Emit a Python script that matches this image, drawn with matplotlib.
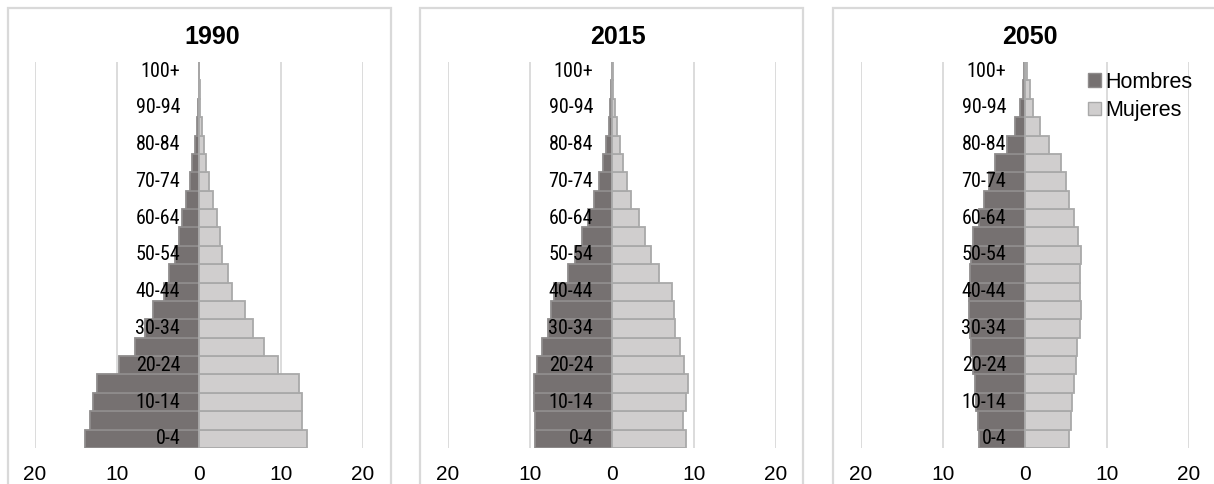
import numpy as np
import matplotlib
matplotlib.use('Agg')
import matplotlib.pyplot as plt
from matplotlib.patches import Patch, Rectangle

plt.rcParams['font.family'] = ['Liberation Sans', 'DejaVu Sans']

#age groups, youngest first
ages = ['0-4', '5-9', '10-14', '15-19', '20-24', '25-29', '30-34', '35-39',
        '40-44', '45-49', '50-54', '55-59', '60-64', '65-69', '70-74',
        '75-79', '80-84', '85-89', '90-94', '95-99', '100+']

years = ['1990', '2015', '2050']

#share of population (%) per age group
men_1990 = [13.9, 13.25, 12.9, 12.4, 9.75, 7.85, 6.6, 5.6, 4.3, 3.65, 2.9,
            2.45, 2.05, 1.6, 1.05, 0.8, 0.5, 0.3, 0.12, 0.05, 0.01]
women_1990 = [13.2, 12.6, 12.5, 12.15, 9.6, 7.9, 6.6, 5.55, 4.05, 3.5, 2.85,
              2.6, 2.25, 1.75, 1.2, 0.9, 0.6, 0.35, 0.15, 0.08, 0.03]

men_2015 = [9.45, 9.35, 9.55, 9.55, 9.15, 8.55, 7.85, 7.45, 7.05, 5.35, 4.5,
            3.65, 2.9, 2.15, 1.6, 1.1, 0.75, 0.4, 0.25, 0.1, 0.03]
women_2015 = [9.0, 8.7, 9.05, 9.25, 8.8, 8.3, 7.7, 7.5, 7.3, 5.75, 4.8,
              4.0, 3.25, 2.3, 1.8, 1.3, 1.0, 0.55, 0.35, 0.15, 0.07]

men_2050 = [5.65, 5.75, 5.95, 6.15, 6.35, 6.55, 6.75, 6.8, 6.8, 6.75, 6.55,
            6.3, 5.65, 5.05, 4.35, 3.65, 2.2, 1.25, 0.55, 0.2, 0.07]
women_2050 = [5.4, 5.6, 5.75, 5.95, 6.2, 6.4, 6.65, 6.8, 6.7, 6.7, 6.85,
              6.5, 6.0, 5.4, 5.0, 4.35, 2.95, 1.85, 1.0, 0.55, 0.25]

men = [men_1990, men_2015, men_2050]
women = [women_1990, women_2015, women_2050]

xticks = [-20, -10, 0, 10, 20]

W, H = 1214, 484
fig = plt.figure(figsize=(W / 100, H / 100), dpi=100)

#pixel layout of each panel: plot area left edge, frame left and right edge
plot_left = [35, 448, 861]
frame_left = [8, 420, 833]
frame_right = [391, 803, 1240]
title_x = [0.54, 0.517, 0.515]
plot_w, plot_top, plot_bot = 328, 62, 448

dark = '#767171'
light = '#d0cece'
grid = '#d9d9d9'
narrow = ['Liberation Sans Narrow', 'Roboto Condensed', 'Liberation Sans']

y = np.arange(len(ages))

for k in range(3):
    #light frame round each chart
    fig.patches.append(Rectangle((frame_left[k] / W, -0.1),
                                 (frame_right[k] - frame_left[k]) / W,
                                 1.1 - 8 / H,
                                 transform=fig.transFigure, fill=False,
                                 edgecolor=grid, linewidth=1.6, zorder=0))

    ax = fig.add_axes([plot_left[k] / W, (H - plot_bot) / H,
                       plot_w / W, (plot_bot - plot_top) / H])
    ax.barh(y, -np.array(men[k]), height=1.0, color=dark,
            edgecolor='#8f8c8c', linewidth=1.3, zorder=2, label='Hombres')
    ax.barh(y, women[k], height=1.0, color=light,
            edgecolor='#a9a9a9', linewidth=1.3, zorder=2, label='Mujeres')

    ax.set_xlim(-20, 20)
    ax.set_ylim(-0.5, len(ages) - 0.5)
    for g in xticks:
        ax.axvline(g, color=grid, linewidth=1.3, zorder=1)
    ax.set_xticks(xticks)
    ax.set_xticklabels([str(abs(t)) for t in xticks], fontsize=15)
    ax.tick_params(axis='x', length=0, pad=12)
    ax.set_yticks([])
    for s in ax.spines.values():
        s.set_visible(False)
    ax.patch.set_alpha(0)

    #age labels sit just left of the centre line, every other group
    for i in range(0, len(ages), 2):
        ax.text(-2.3, y[i], ages[i], ha='right', va='center', fontsize=14.5,
                family=narrow, zorder=3)

    ax.text(title_x[k], 1 + 24.5 / (plot_bot - plot_top), years[k],
            transform=ax.transAxes, ha='center', va='center',
            fontsize=18, fontweight='bold')

    if k == 2:
        handles = [Patch(facecolor=dark, edgecolor='#8f8c8c', label='Hombres'),
                   Patch(facecolor=light, edgecolor='#a9a9a9', label='Mujeres')]
        ax.legend(handles=handles, loc='upper left',
                  bbox_to_anchor=((1088 - plot_left[k]) / plot_w, 0.975),
                  frameon=False, fontsize=15.5, handlelength=0.6,
                  handleheight=0.6, handletextpad=0.2, labelspacing=0.35,
                  borderpad=0, borderaxespad=0)

fig.savefig('out.png', dpi=100)
